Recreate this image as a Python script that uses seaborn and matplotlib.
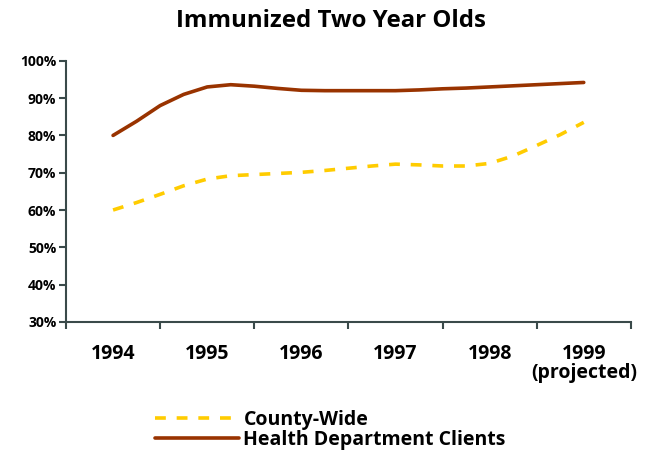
import pandas as pd
import matplotlib.pyplot as plt
from matplotlib.ticker import FixedLocator, PercentFormatter
import seaborn as sns

# valeurs (points trimestriels)
years = [1994, 1994.25, 1994.5, 1994.75, 1995, 1995.25, 1995.5, 1995.75,
         1996, 1996.25, 1996.5, 1996.75, 1997, 1997.25, 1997.5, 1997.75,
         1998, 1998.25, 1998.5, 1998.75, 1999]
county_wide = [60, 62, 64.2, 66.5, 68.3, 69.2, 69.5, 69.8,
               70.1, 70.6, 71.2, 71.8, 72.3, 72.1, 71.8, 71.8,
               72.5, 74.5, 77.3, 80.2, 83.5]
health_dept = [80, 83.8, 88, 91, 93, 93.6, 93.2, 92.6,
               92.1, 92, 92, 92, 92, 92.2, 92.5, 92.7,
               93, 93.3, 93.6, 93.9, 94.2]
year_labels = ["1994", "1995", "1996", "1997", "1998", "1999\n(projected)"]

df = pd.DataFrame({
    "year": years * 2,
    "pct": county_wide + health_dept,
    "series": ["County-Wide"] * len(years) + ["Health Department Clients"] * len(years),
})

sns.set_style("white")
plt.rcParams["font.family"] = ["Open Sans", "DejaVu Sans"]
plt.rcParams["font.weight"] = "bold"
plt.rcParams["text.color"] = "black"
plt.rcParams["xtick.labelcolor"] = "black"
plt.rcParams["ytick.labelcolor"] = "black"

fig = plt.figure(figsize=(6.47, 4.54), dpi=100)
ax = fig.add_axes([0.102, 0.291, 0.873, 0.575])

ax = sns.lineplot(data=df, x="year", y="pct", hue="series", style="series",
                  palette={"County-Wide": "#FFCC00", "Health Department Clients": "#993300"},
                  dashes={"County-Wide": (3, 3), "Health Department Clients": ""},
                  linewidth=2.6, ax=ax)

ax.set_xlim(1993.5, 1999.5)
ax.set_ylim(30, 100)
ax.yaxis.set_major_locator(FixedLocator(range(30, 101, 10)))
ax.yaxis.set_major_formatter(PercentFormatter(decimals=0))
ax.xaxis.set_major_locator(FixedLocator([1993.5 + i for i in range(7)]))
ax.xaxis.set_major_formatter(plt.NullFormatter())
ax.xaxis.set_minor_locator(FixedLocator([1994 + i for i in range(6)]))
ax.set_xticklabels(year_labels, minor=True)

ax.tick_params(axis="x", which="major", direction="out", length=5, width=1.5,
               color="#3a4a4a", bottom=True)
ax.tick_params(axis="x", which="minor", length=0, pad=16, labelsize=14, labelcolor="black")
ax.tick_params(axis="y", direction="out", length=5, width=1.5, color="#3a4a4a",
               left=True, labelsize=10, pad=2, labelcolor="black")
for lbl in ax.get_xticklabels(minor=True) + ax.get_yticklabels():
    lbl.set_fontweight("bold")
    lbl.set_linespacing(0.95)

sns.despine(ax=ax)
for side in ["left", "bottom"]:
    ax.spines[side].set_color("#3a4a4a")
    ax.spines[side].set_linewidth(1.5)

ax.set_xlabel("")
ax.set_ylabel("")
fig.suptitle("Immunized Two Year Olds", x=0.512, y=0.98, fontsize=17.3,
             fontweight="bold", color="black")

leg = ax.legend(loc="upper left", frameon=False,
                handlelength=4.3, handletextpad=0.25, labelspacing=0.0,
                prop={"size": 14, "weight": "bold"}, borderaxespad=0,
                bbox_to_anchor=(155 / 647 - 0.012, 1 - 402 / 454),
                bbox_transform=fig.transFigure)
for t in leg.get_texts():
    t.set_color("black")

plt.savefig("out.png", dpi=100)
plt.close()
